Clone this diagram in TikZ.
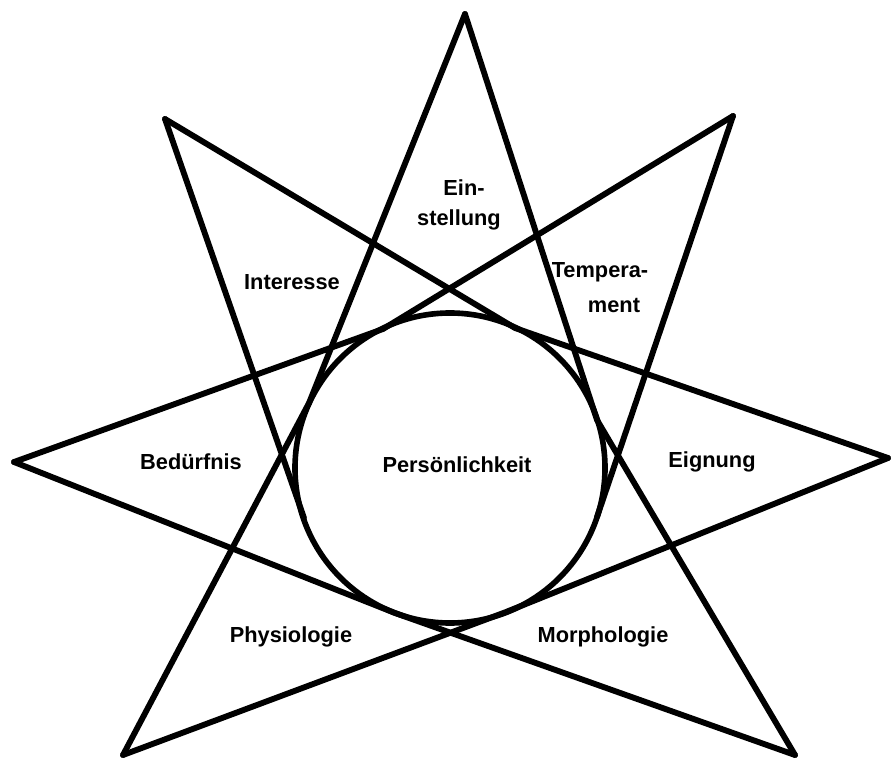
\documentclass[tikz,border=0pt]{standalone}
\usepackage{fontspec}
\setmainfont{Liberation Sans}
\begin{document}
\begin{tikzpicture}[x=0.03cm,y=-0.03cm,
  edge/.style={line width=5pt, line cap=round, line join=round},
  ring/.style={line width=4.8pt},
  lbl/.style={font=\bfseries\fontsize{18.6}{22}\selectfont, inner sep=0pt, align=center}]
\useasboundingbox (0,0) rectangle (892,760);
% star vertices
\coordinate (top) at (465,14);
\coordinate (tr) at (733,116);
\coordinate (r) at (888,458);
\coordinate (br) at (795,755);
\coordinate (bl) at (123,755);
\coordinate (l) at (14,462);
\coordinate (tl) at (165,119);
% circle centre and tangent points
\coordinate (c) at (450,468);
\coordinate (t1) at (309,403);
\coordinate (t2) at (597,420);
\coordinate (t3) at (395,613);
\coordinate (t4) at (506,612);
\coordinate (t5) at (515,328);
\coordinate (t6) at (383,329);
\coordinate (t7) at (304,518);
\coordinate (t8) at (597,517);
% circle
\draw[ring] (c) circle[radius=155];
% star lines
\draw[edge] (top) -- (t1) -- (bl);
\draw[edge] (top) -- (t2) -- (br);
\draw[edge] (l) -- (t3) -- (br);
\draw[edge] (r) -- (t4) -- (bl);
\draw[edge] (tl) -- (t5) -- (r);
\draw[edge] (tr) -- (t6) -- (l);
\draw[edge] (tl) -- (t7);
\draw[edge] (tr) -- (t8);
% labels
\node[lbl] (pers) at (457,465) {Persönlichkeit};
\node[lbl] (ein) at (464,188) {Ein-};
\node[lbl] (stell) at (459,220) {stellung};
\node[lbl] (temp1) at (600,272) {Tempera-};
\node[lbl] (temp2) at (614,305) {ment};
\node[lbl] (inter) at (292,282) {Interesse};
\node[lbl] (bed) at (191,462) {Bedürfnis};
\node[lbl] (eign) at (712,462) {Eignung};
\node[lbl] (phys) at (291,637) {Physiologie};
\node[lbl] (morph) at (603,637) {Morphologie};
\end{tikzpicture}
\end{document}
